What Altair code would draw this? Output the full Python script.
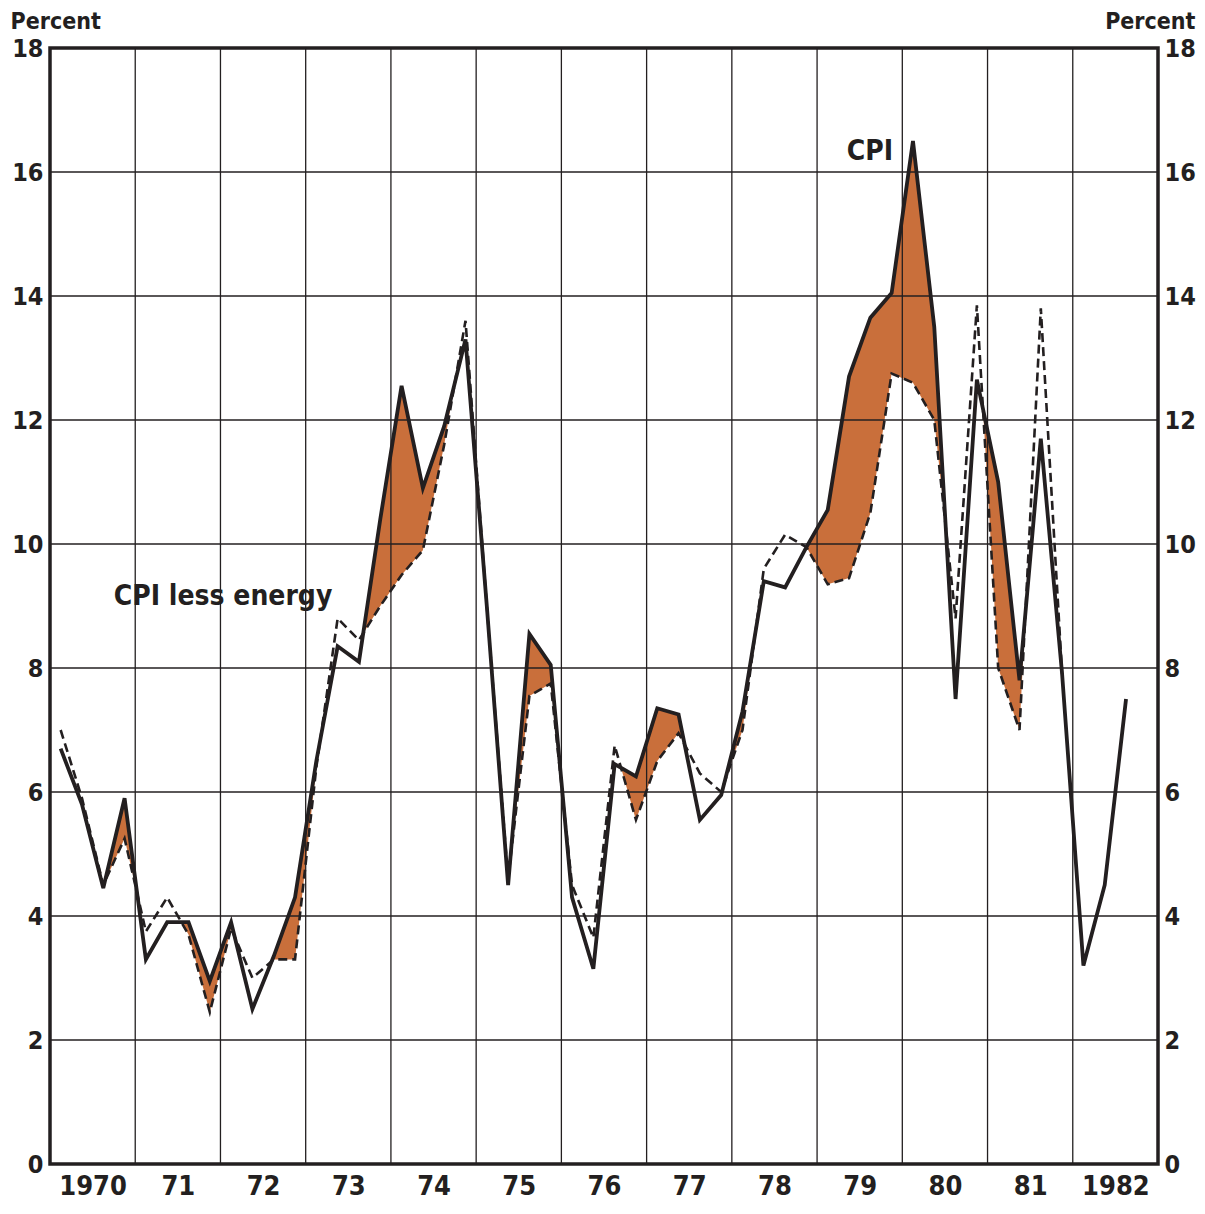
import altair as alt
import pandas as pd

# Quarterly percent changes (annual rate), 1970 Q1 onward
cpi = [6.7, 5.8, 4.45, 5.9, 3.3, 3.9, 3.9, 2.95, 3.9, 2.5, 3.35, 4.3,
       6.5, 8.35, 8.1, 10.4, 12.55, 10.9, 11.9, 13.3, 9.0, 4.5, 8.55, 8.05,
       4.3, 3.15, 6.45, 6.25, 7.35, 7.25, 5.55, 5.95, 7.3, 9.4, 9.3, 9.95,
       10.55, 12.7, 13.65, 14.05, 16.5, 13.5, 7.5, 12.65, 11.0, 7.8, 11.7, 7.9,
       3.2, 4.5, 7.5]
cpi_less_energy = [7.0, 5.9, 4.5, 5.25, 3.75, 4.3, 3.7, 2.45, 3.8, 3.0, 3.3, 3.3,
                   6.4, 8.8, 8.45, 9.0, 9.5, 9.9, 11.6, 13.6, 9.0, 4.6, 7.55, 7.75,
                   4.5, 3.65, 6.75, 5.55, 6.5, 6.95, 6.3, 6.0, 7.0, 9.6, 10.15, 9.95,
                   9.35, 9.45, 10.5, 12.75, 12.6, 12.0, 8.8, 13.85, 8.0, 7.0, 13.8, 7.9]
start_year = 1970
end_year = 1983
year_labels = ["1970", "71", "72", "73", "74", "75", "76", "77", "78", "79", "80", "81", "1982"]
y_ticks = [0, 2, 4, 6, 8, 10, 12, 14, 16, 18]
grid_years = list(range(1971, 1983))
label_text = ["CPI", "CPI less energy"]
label_t = [1979.62, 1972.03]
label_v = [16.33, 9.15]

FONT = "'DejaVu Sans Condensed', 'Liberation Sans Narrow', 'DejaVu Sans', sans-serif"
INK = "#231f20"
ORANGE = "#c96f3b"


def qtime(i):
    return start_year + (i + 0.5) / 4


cpi_df = pd.DataFrame({"t": [qtime(i) for i in range(len(cpi))], "v": cpi})
less_df = pd.DataFrame({"t": [qtime(i) for i in range(len(cpi_less_energy))], "v": cpi_less_energy})

# shaded region where CPI exceeds CPI less energy (with exact crossing points)
rows = []
n = len(cpi_less_energy)
for i in range(n):
    a, b = cpi[i], cpi_less_energy[i]
    rows.append({"t": qtime(i), "lo": b, "hi": max(a, b)})
    if i < n - 1:
        d0 = a - b
        d1 = cpi[i + 1] - cpi_less_energy[i + 1]
        if d0 * d1 < 0:
            f = d0 / (d0 - d1)
            vc = b + f * (cpi_less_energy[i + 1] - b)
            rows.append({"t": qtime(i) + f * 0.25, "lo": vc, "hi": vc})
fill_df = pd.DataFrame(rows)

xscale = alt.Scale(domain=[start_year, end_year], nice=False, zero=False)
yscale = alt.Scale(domain=[0, 18], nice=False, zero=True)

# label expression built from the year label list
label_expr = "''"
for k in range(len(year_labels) - 1, -1, -1):
    label_expr = "datum.value < %d ? '%s' : (%s)" % (start_year + k + 1, year_labels[k], label_expr)

LBL = 25
x_axis = alt.Axis(values=[y + 0.5 for y in range(start_year, end_year)], labelExpr=label_expr,
                  grid=False, ticks=False, domain=False, title=None, labelFont=FONT,
                  labelFontSize=27, labelFontWeight="bold", labelColor=INK, labelPadding=9,
                  labelBaseline="top", labelFlush=False, labelOverlap=False)

left_axis = alt.Axis(values=y_ticks, grid=False, ticks=False, domain=False, orient="left",
                     labelFont=FONT, labelFontSize=LBL, labelFontWeight="bold", labelColor=INK,
                     labelPadding=7, labelFlush=False, format="d", labelOverlap=False,
                     title="Percent", titleAngle=0, titleAlign="left", titleBaseline="alphabetic",
                     titleX=-40, titleY=-20, titleFont=FONT, titleFontSize=23,
                     titleFontWeight="bold", titleColor=INK)
right_axis = alt.Axis(values=y_ticks, grid=False, ticks=False, domain=False, orient="right",
                      labelFont=FONT, labelFontSize=LBL, labelFontWeight="bold", labelColor=INK,
                      labelPadding=6, labelFlush=False, format="d", labelOverlap=False,
                      title="Percent", titleAngle=0, titleAlign="right", titleBaseline="alphabetic",
                      titleX=37, titleY=-20, titleFont=FONT, titleFontSize=23,
                      titleFontWeight="bold", titleColor=INK)


def X(field):
    return alt.X(field, type="quantitative", scale=xscale, axis=x_axis)


fill = alt.Chart(fill_df).mark_area(color=ORANGE, opacity=1, interpolate="linear").encode(
    x=X("t"),
    y=alt.Y("lo:Q", scale=yscale, axis=left_axis),
    y2="hi:Q",
)

vgrid = alt.Chart(pd.DataFrame({"t": grid_years})).mark_rule(color=INK, strokeWidth=1.3).encode(
    x=X("t")
)
hgrid = alt.Chart(pd.DataFrame({"v": y_ticks[1:-1]})).mark_rule(color=INK, strokeWidth=1.3).encode(
    y=alt.Y("v:Q", scale=yscale, axis=None)
)

less_line = alt.Chart(less_df).mark_line(color=INK, strokeWidth=2.6, strokeDash=[9, 5]).encode(
    x=X("t"),
    y=alt.Y("v:Q", scale=yscale, axis=None),
)
cpi_line = alt.Chart(cpi_df).mark_line(color=INK, strokeWidth=3.8, strokeJoin="miter").encode(
    x=X("t"),
    y=alt.Y("v:Q", scale=yscale, axis=right_axis),
)

labels = alt.Chart(pd.DataFrame({"text": label_text, "t": label_t, "v": label_v})).mark_text(
    font=FONT, fontSize=28, fontWeight="bold", color=INK, align="center", baseline="middle"
).encode(
    x=X("t"),
    y=alt.Y("v:Q", scale=yscale, axis=None),
    text="text:N",
)

chart = alt.layer(fill, vgrid, hgrid, less_line, cpi_line, labels).resolve_axis(
    y="independent"
).properties(
    width=1108, height=1116,
    autosize=alt.AutoSizeParams(type="none"),
    padding={"left": 42, "top": 40, "right": 39, "bottom": 36},
    background="white",
).configure_view(stroke=INK, strokeWidth=3.5)

chart.save("out.html", embed_options={"renderer": "svg", "actions": False})
